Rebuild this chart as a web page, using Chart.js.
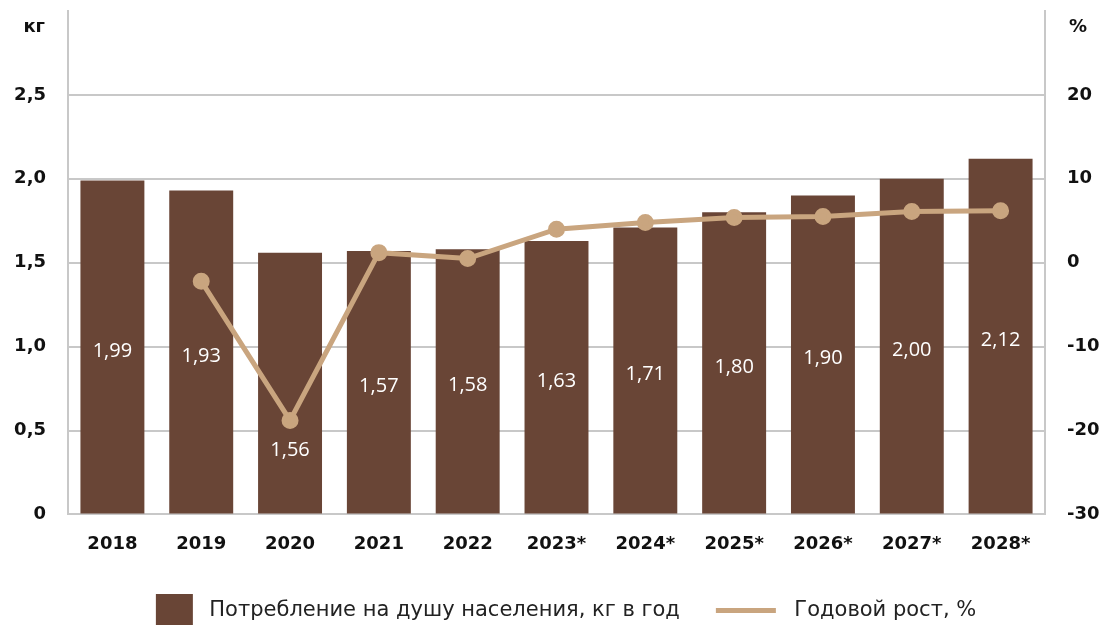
<!DOCTYPE html>
<html>
<head>
<meta charset="utf-8">
<script src="https://cdn.jsdelivr.net/npm/chart.js@4"></script>
<style>
  html, body { margin: 0; padding: 0; background: #fff; }
  #wrap { width: 1105px; height: 625px; }
</style>
</head>
<body>
<div id="wrap"><canvas id="chart"></canvas></div>
<script>
const years = ['2018', '2019', '2020', '2021', '2022', '2023*', '2024*', '2025*', '2026*', '2027*', '2028*'];
const consumption = [1.99, 1.93, 1.56, 1.57, 1.58, 1.63, 1.71, 1.80, 1.90, 2.00, 2.12];
const growth = [null, -2.2, -18.8, 1.2, 0.5, 4.0, 4.8, 5.4, 5.5, 6.1, 6.2];
const seriesNames = ['Потребление на душу населения, кг в год', 'Годовой рост, %'];
const unitLeft = 'кг';
const unitRight = '%';

const BAR = '#694536';
const LINE = '#c9a57f';
const GRID = '#c8c8c8';
const TICK_FONT = { family: 'DejaVu Sans', weight: 'bold', size: 18 };

// legend swatches, same width so text lines up after them
function swatch(color, x, y, w, h) {
  const c = document.createElement('canvas');
  c.width = 70; c.height = 33;
  const g = c.getContext('2d');
  g.fillStyle = color;
  g.fillRect(x, y, w, h);
  return c;
}
const barSwatch = swatch(BAR, 27, 0, 37, 33);
const lineSwatch = swatch(LINE, 2, 14, 60, 5);

const fmt = v => v.toFixed(2).replace('.', ',');

// values inside the bars + unit labels over the axes
const labelsPlugin = {
  id: 'labels',
  afterDatasetsDraw(chart) {
    const ctx = chart.ctx;
    const bars = chart.getDatasetMeta(0).data;
    const pts = chart.getDatasetMeta(1).data;
    ctx.save();
    ctx.fillStyle = '#ffffff';
    ctx.font = '20px "Open Sans"';
    ctx.textAlign = 'center';
    ctx.textBaseline = 'middle';
    bars.forEach((b, i) => {
      let y = (b.y + b.base) / 2 + 4;
      const p = pts[i];
      if (p && growth[i] !== null && p.y > y - 30) y = p.y + 30;
      ctx.fillText(fmt(consumption[i]), b.x, y);
    });
    ctx.fillStyle = '#111';
    ctx.font = 'bold 18px "DejaVu Sans"';
    const a = chart.chartArea;
    ctx.textAlign = 'right';
    ctx.fillText(unitLeft, a.left - 23, a.top + 16);
    ctx.textAlign = 'left';
    ctx.fillText(unitRight, a.right + 24, a.top + 16);
    ctx.restore();
  }
};

new Chart(document.getElementById('chart').getContext('2d'), {
  data: {
    labels: years,
    datasets: [{
      type: 'bar',
      label: seriesNames[0],
      data: consumption,
      backgroundColor: BAR,
      yAxisID: 'y',
      barPercentage: 0.72,
      categoryPercentage: 1,
      order: 2
    }, {
      type: 'line',
      label: seriesNames[1],
      data: growth,
      borderColor: LINE,
      backgroundColor: LINE,
      borderWidth: 5,
      pointRadius: 6,
      pointHoverRadius: 6,
      yAxisID: 'y1',
      order: 1
    }]
  },
  options: {
    responsive: true,
    maintainAspectRatio: false,
    animation: false,
    layout: { padding: { top: 10, bottom: -6, left: 0, right: 0 } },
    plugins: {
      tooltip: { enabled: false },
      legend: {
        position: 'bottom',
        labels: {
          usePointStyle: true,
          pointStyleWidth: 70,
          padding: 34,
          color: '#222',
          font: { family: 'DejaVu Sans', size: 21 },
          generateLabels(chart) {
            return chart.data.datasets.map((ds, i) => ({
              text: ds.label,
              pointStyle: i === 0 ? barSwatch : lineSwatch,
              fillStyle: ds.backgroundColor,
              strokeStyle: ds.backgroundColor,
              lineWidth: 0,
              datasetIndex: i,
              fontColor: '#222'
            }));
          }
        }
      }
    },
    scales: {
      x: {
        grid: { display: false },
        border: { color: GRID, width: 2 },
        ticks: { color: '#111', font: TICK_FONT, padding: 11, maxRotation: 0 }
      },
      y: {
        position: 'left',
        min: 0, max: 3,
        afterFit(s) { s.width = 68; s.paddingTop = 0; },
        grid: { color: c => c.tick.value === 3 ? 'rgba(0,0,0,0)' : GRID, lineWidth: 2, drawTicks: false },
        border: { color: GRID, width: 2 },
        ticks: {
          stepSize: 0.5, padding: 22, color: '#111', font: TICK_FONT,
          callback: v => v === 3 ? '' : (v === 0 ? '0' : v.toFixed(1).replace('.', ','))
        }
      },
      y1: {
        position: 'right',
        min: -30, max: 30,
        afterFit(s) { s.width = 60; s.paddingTop = 0; },
        grid: { display: false, drawTicks: false },
        border: { color: GRID, width: 2 },
        ticks: {
          stepSize: 10, padding: 22, color: '#111', font: TICK_FONT,
          callback: v => v === 30 ? '' : String(v)
        }
      }
    }
  },
  plugins: [labelsPlugin]
});
</script>
</body>
</html>
